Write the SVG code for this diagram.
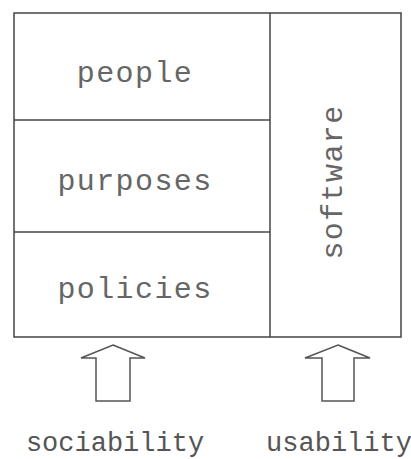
<svg xmlns="http://www.w3.org/2000/svg" width="411" height="459" viewBox="0 0 411 459">
<style>
.box{fill:none;stroke:#444;stroke-width:1.5}
.ln{stroke:#444;stroke-width:1.5}
.lbl{font-family:"Liberation Mono","Courier New",monospace;font-size:30px;letter-spacing:1.4px;fill:#666;text-anchor:middle}
.cap{font-family:"Liberation Mono","Courier New",monospace;font-size:27px;fill:#555;text-anchor:middle}
.arr{fill:#fff;stroke:#555;stroke-width:1.5;stroke-linejoin:miter}
</style>
<rect width="411" height="459" fill="#fff"/>
<g id="frame">
<rect class="box" x="14" y="13" width="387" height="324"/>
</g>
<g id="people">
<text class="lbl" x="135" y="82">people</text>
</g>
<g id="purposes">
<line class="ln" x1="14" y1="120" x2="270" y2="120"/>
<text class="lbl" x="135" y="190">purposes</text>
</g>
<g id="policies">
<line class="ln" x1="14" y1="232" x2="270" y2="232"/>
<text class="lbl" x="135" y="298">policies</text>
</g>
<g id="software">
<line class="ln" x1="270" y1="13" x2="270" y2="337"/>
<text class="lbl" transform="translate(342,182) rotate(-90)" x="0" y="0">software</text>
</g>
<g id="connectors">
<polygon class="arr" points="113,345 145,358 130,358 130,401 96,401 96,358 81,358"/>
<polygon class="arr" points="338,345 370,358 354,358 354,401 322,401 322,358 305,358"/>
</g>
<g id="sociability">
<text class="cap" x="115" y="451">sociability</text>
</g>
<g id="usability">
<text class="cap" x="339" y="451">usability</text>
</g>
</svg>
